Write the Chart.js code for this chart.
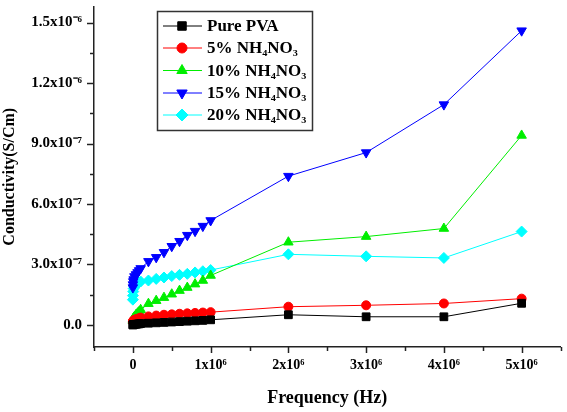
<!DOCTYPE html>
<html lang="en">
<head>
  <meta charset="UTF-8">
  <title>Conductivity vs Frequency</title>
  <script src="https://cdn.jsdelivr.net/npm/chart.js"></script>
  <style>
    html, body { margin: 0; padding: 0; background: #fff; }
    canvas { display: block; }
  </style>
</head>
<body>
<canvas id="condChart" width="567" height="412"></canvas>

<script>
  // frequency sweep (Hz)
  const freq = [100, 1e3, 5e3, 1e4, 2e4, 4e4, 6e4, 8e4, 1e5, 2e5, 3e5, 4e5, 5e5, 6e5, 7e5, 8e5, 9e5, 1e6, 2e6, 3e6, 4e6, 5e6];

  // conductivity (S/cm)
  const purePVA = [0, 0, 1e-9, 1e-9, 2e-9, 3e-9, 4e-9, 5e-9, 6e-9, 8e-9, 1.0e-8, 1.2e-8, 1.4e-8, 1.6e-8, 1.8e-8, 2.0e-8, 2.2e-8, 2.5e-8, 5.0e-8, 4.0e-8, 4.0e-8, 1.07e-7];
  const nh5 = [1.5e-8, 1.8e-8, 2.0e-8, 2.2e-8, 2.5e-8, 2.8e-8, 3.0e-8, 3.3e-8, 3.6e-8, 4.2e-8, 4.6e-8, 5.0e-8, 5.2e-8, 5.5e-8, 5.7e-8, 5.9e-8, 6.1e-8, 6.3e-8, 9.0e-8, 9.7e-8, 1.06e-7, 1.3e-7];
  const nh10 = [2.0e-8, 2.5e-8, 3.0e-8, 3.5e-8, 4.0e-8, 5.0e-8, 5.8e-8, 6.5e-8, 7.5e-8, 1.05e-7, 1.2e-7, 1.35e-7, 1.52e-7, 1.7e-7, 1.85e-7, 2.02e-7, 2.2e-7, 2.45e-7, 4.1e-7, 4.38e-7, 4.78e-7, 9.4e-7];
  const nh15 = [1.85e-7, 2.0e-7, 2.15e-7, 2.25e-7, 2.4e-7, 2.5e-7, 2.6e-7, 2.7e-7, 2.8e-7, 3.15e-7, 3.35e-7, 3.6e-7, 3.9e-7, 4.15e-7, 4.45e-7, 4.65e-7, 4.9e-7, 5.18e-7, 7.38e-7, 8.55e-7, 1.093e-6, 1.46e-6];
  const nh20 = [1.25e-7, 1.45e-7, 1.65e-7, 1.8e-7, 1.9e-7, 2.0e-7, 2.05e-7, 2.1e-7, 2.15e-7, 2.2e-7, 2.28e-7, 2.35e-7, 2.42e-7, 2.48e-7, 2.53e-7, 2.6e-7, 2.66e-7, 2.72e-7, 3.5e-7, 3.4e-7, 3.32e-7, 4.63e-7];

  const seriesNames = ['Pure PVA', '5% NH₄NO₃', '10% NH₄NO₃', '15% NH₄NO₃', '20% NH₄NO₃'];

  // tick labels (majors only, minors left blank)
  const xTickLabels = ['0', '1x10⁶', '2x10⁶', '3x10⁶', '4x10⁶', '5x10⁶'];
  const yTickLabels = ['0.0', '3.0x10⁻⁷', '6.0x10⁻⁷', '9.0x10⁻⁷', '1.2x10⁻⁶', '1.5x10⁻⁶'];

  const FONT = "'Liberation Serif', 'Times New Roman', serif";

  function pts(ys) {
    return freq.map((f, i) => ({ x: f, y: ys[i] }));
  }

  function makeSet(label, ys, color, style, radius, rotation) {
    return {
      label,
      data: pts(ys),
      borderColor: color,
      backgroundColor: color,
      borderWidth: 1,
      pointStyle: style,
      pointRadius: radius,
      pointHoverRadius: radius,
      pointRotation: rotation || 0,
      pointBorderWidth: 1,
      pointBackgroundColor: color,
      pointBorderColor: color,
      tension: 0
    };
  }

  // small ticks drawn by hand: majors 7px, minors 4px
  const tickPlugin = {
    id: 'ticks',
    afterDraw(chart) {
      const ctx = chart.ctx;
      const xs = chart.scales.x, ys = chart.scales.y;
      ctx.save();
      ctx.strokeStyle = '#222';
      ctx.lineWidth = 1.5;
      ys.ticks.forEach(t => {
        const k = Math.round(t.value / 1.5e-7);
        const len = k % 2 === 0 ? 7 : 4;
        const py = Math.round(ys.getPixelForValue(t.value)) + 0.5;
        ctx.beginPath();
        ctx.moveTo(ys.right - len, py);
        ctx.lineTo(ys.right, py);
        ctx.stroke();
      });
      xs.ticks.forEach(t => {
        const k = Math.round(t.value / 5e5);
        const len = k % 2 === 0 ? 6 : 4;
        const px = Math.round(xs.getPixelForValue(t.value)) + 0.5;
        ctx.beginPath();
        ctx.moveTo(px, xs.top);
        ctx.lineTo(px, xs.top + len);
        ctx.stroke();
      });
      ctx.restore();
    }
  };

  // boxed legend inside the plot, line + marker + label
  const legendPlugin = {
    id: 'boxLegend',
    afterDraw(chart) {
      const ctx = chart.ctx;
      const rows = [26, 48, 70.5, 93, 115];
      ctx.save();
      ctx.strokeStyle = '#333';
      ctx.lineWidth = 1.5;
      ctx.strokeRect(157.5, 11.5, 155, 119);
      chart.data.datasets.forEach((ds, i) => {
        const y = rows[i];
        ctx.strokeStyle = ds.borderColor;
        ctx.fillStyle = ds.backgroundColor;
        ctx.lineWidth = 1;
        ctx.beginPath();
        ctx.moveTo(163, y);
        ctx.lineTo(202, y);
        ctx.stroke();
        Chart.helpers.drawPoint(ctx, {
          pointStyle: ds.pointStyle,
          radius: ds.pointRadius + 0.5,
          rotation: ds.pointRotation,
          borderWidth: 1
        }, 182, y);
        ctx.fillStyle = '#000';
        ctx.font = 'bold 17px ' + FONT;
        ctx.textBaseline = 'middle';
        ctx.textAlign = 'left';
        ctx.fillText(ds.label, 207, y + 1);
      });
      ctx.restore();
    }
  };

  new Chart(document.getElementById('condChart'), {
    type: 'line',
    data: {
      datasets: [
        makeSet(seriesNames[0], purePVA, '#000000', 'rect', 5.5),
        makeSet(seriesNames[1], nh5, '#ff0000', 'circle', 4.5),
        makeSet(seriesNames[2], nh10, '#00ee00', 'triangle', 5.5),
        makeSet(seriesNames[3], nh15, '#0000ff', 'triangle', 5.5, 180),
        makeSet(seriesNames[4], nh20, '#00ffff', 'rectRot', 5.5)
      ]
    },
    options: {
      responsive: false,
      animation: false,
      devicePixelRatio: 1,
      layout: { padding: 0 },
      plugins: {
        legend: { display: false },
        tooltip: { enabled: false }
      },
      scales: {
        x: {
          type: 'linear',
          min: -5e5,
          max: 5.5e6,
          grid: { display: true, drawOnChartArea: false, drawTicks: true, tickLength: 6, tickColor: 'rgba(0,0,0,0)' },
          border: { color: '#222', width: 1.5 },
          ticks: {
            stepSize: 5e5,
            includeBounds: false,
            autoSkip: false,
            maxRotation: 0,
            padding: 4,
            color: '#000',
            font: { family: FONT, size: 14, weight: 'bold' },
            callback: v => {
              const k = Math.round(v / 5e5);
              return (k >= 0 && k % 2 === 0 && k / 2 < xTickLabels.length) ? xTickLabels[k / 2] : '';
            }
          },
          title: {
            display: true,
            text: 'Frequency (Hz)',
            color: '#000',
            font: { family: FONT, size: 18, weight: 'bold' },
            padding: { top: 0, bottom: 3 }
          },
          afterFit: s => { s.height = 65; s.paddingLeft = 0; s.paddingRight = 0; }
        },
        y: {
          min: -1.1e-7,
          max: 1.58e-6,
          grid: { display: true, drawOnChartArea: false, drawTicks: true, tickLength: 7, tickColor: 'rgba(0,0,0,0)' },
          border: { color: '#222', width: 1.5 },
          ticks: {
            stepSize: 1.5e-7,
            includeBounds: false,
            autoSkip: false,
            padding: 5,
            color: '#000',
            font: { family: FONT, size: 15, weight: 'bold' },
            callback: v => {
              const k = Math.round(v / 1.5e-7);
              return (k >= 0 && k % 2 === 0 && k / 2 < yTickLabels.length) ? yTickLabels[k / 2] : '';
            }
          },
          title: {
            display: true,
            text: 'Conductivity(S/Cm)',
            color: '#000',
            font: { family: FONT, size: 16, weight: 'bold' },
            padding: 0
          },
          afterFit: s => { s.width = 94; s.paddingTop = 0; s.paddingBottom = 0; }
        }
      }
    },
    plugins: [tickPlugin, legendPlugin]
  });
</script>
</body>
</html>
